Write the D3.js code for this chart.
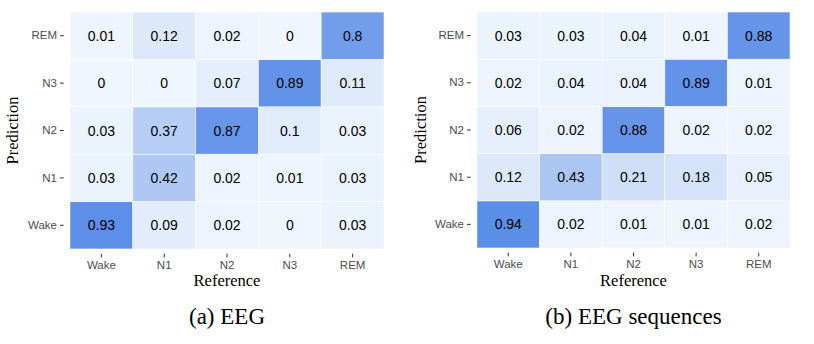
<!DOCTYPE html>
<html>
<head>
<meta charset="utf-8">
<script src="https://cdn.jsdelivr.net/npm/d3@7"></script>
<style>
	body { margin: 0; background: #fff; }
	.tick text { font-family: "Liberation Sans", Arial, sans-serif; font-size: 11.5px; fill: #4d4d4d; }
	.tick line { stroke: #333; }
	.cellText { font-family: "Liberation Sans", Arial, sans-serif; font-size: 14px; fill: #000; }
	.axisTitle { font-family: "Liberation Serif", "Times New Roman", serif; font-size: 16.5px; fill: #000; }
	.caption { font-family: "Liberation Serif", "Times New Roman", serif; font-size: 23px; fill: #000; }
</style>
</head>
<body>
<script>
//sleep stages (both axes)
var stages = ["Wake", "N1", "N2", "N3", "REM"];

//rows = prediction, columns = reference
var eegValues = [
	[0.93, 0.09, 0.02, 0, 0.03],   //Wake
	[0.03, 0.42, 0.02, 0.01, 0.03],//N1
	[0.03, 0.37, 0.87, 0.1, 0.03], //N2
	[0, 0, 0.07, 0.89, 0.11],      //N3
	[0.01, 0.12, 0.02, 0, 0.8]     //REM
];

var seqValues = [
	[0.94, 0.02, 0.01, 0.01, 0.02],
	[0.12, 0.43, 0.21, 0.18, 0.05],
	[0.06, 0.02, 0.88, 0.02, 0.02],
	[0.02, 0.04, 0.04, 0.89, 0.01],
	[0.03, 0.03, 0.04, 0.01, 0.88]
];

var captions = ["(a) EEG", "(b) EEG sequences"];

window.onload = setChart();

function setChart(){
	var width = 814,
		height = 344;

	var svg = d3.select("body")
		.append("svg")
		.attr("width", width)
		.attr("height", height);

	//fill colour scale
	var color = d3.scaleLinear()
		.domain([0, 1])
		.range(["#f0f6fe", "#5287e6"]);

	//panel boxes (panel edge, tiles sit 0.1 band inside)
	drawPanel(svg, eegValues, captions[0], {left: 63.7, right: 390.3, top: 7.3, bottom: 253.7, titleX: 13}, color);
	drawPanel(svg, seqValues, captions[1], {left: 470.7, right: 796.3, top: 7.3, bottom: 252.7, titleX: 421}, color);
};

function drawPanel(svg, values, caption, box, color){
	var x = d3.scaleBand()
		.domain(stages)
		.range([box.left, box.right])
		.paddingInner(0)
		.paddingOuter(0.1);

	var y = d3.scaleBand()
		.domain(stages)
		.range([box.bottom, box.top])
		.paddingInner(0)
		.paddingOuter(0.1);

	//flatten matrix to cells
	var cells = [];
	values.forEach(function(row, i){
		row.forEach(function(v, j){
			cells.push({pred: stages[i], ref: stages[j], value: v});
		});
	});

	var g = svg.append("g");

	g.selectAll(".tile")
		.data(cells)
		.enter()
		.append("rect")
		.attr("class", "tile")
		.attr("x", function(d){ return x(d.ref); })
		.attr("y", function(d){ return y(d.pred); })
		.attr("width", x.bandwidth())
		.attr("height", y.bandwidth())
		.attr("fill", function(d){ return color(d.value); })
		.attr("stroke", "#ffffff")
		.attr("stroke-opacity", 0.7)
		.attr("stroke-width", 0.8);

	g.selectAll(".cellText")
		.data(cells)
		.enter()
		.append("text")
		.attr("class", "cellText")
		.attr("x", function(d){ return x(d.ref) + x.bandwidth() / 2; })
		.attr("y", function(d){ return y(d.pred) + y.bandwidth() / 2; })
		.attr("text-anchor", "middle")
		.attr("dy", "0.36em")
		.text(function(d){ return d.value; });

	//axes
	var xAxis = g.append("g")
		.attr("transform", "translate(0," + box.bottom + ")")
		.call(d3.axisBottom(x).tickSize(3.7).tickPadding(3));
	xAxis.select(".domain").remove();

	var yAxis = g.append("g")
		.attr("transform", "translate(" + box.left + ",0)")
		.call(d3.axisLeft(y).tickSize(3.7).tickPadding(3));
	yAxis.select(".domain").remove();

	var cx = (x.range()[0] + x.range()[1]) / 2,
		cy = (box.top + box.bottom) / 2;

	g.append("text")
		.attr("class", "axisTitle")
		.attr("x", cx)
		.attr("y", 286)
		.attr("text-anchor", "middle")
		.text("Reference");

	g.append("text")
		.attr("class", "axisTitle")
		.attr("transform", "translate(" + (box.titleX + 5) + "," + cy + ") rotate(-90)")
		.attr("text-anchor", "middle")
		.text("Prediction");

	g.append("text")
		.attr("class", "caption")
		.attr("x", cx)
		.attr("y", 324)
		.attr("text-anchor", "middle")
		.text(caption);
};
</script>
</body>
</html>
